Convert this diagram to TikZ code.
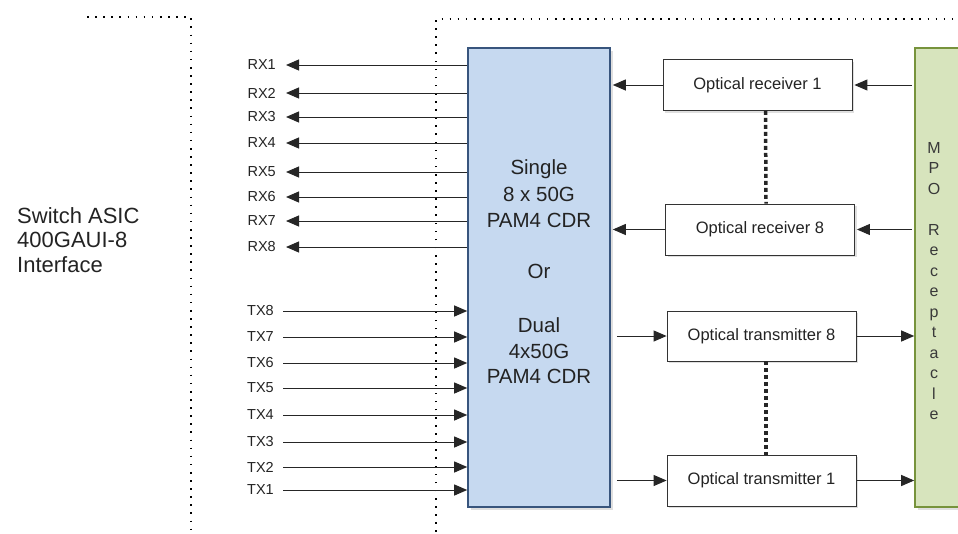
\documentclass[tikz,border=0pt]{standalone}
\usepackage{fontspec}
\setmainfont{Liberation Sans}
\usetikzlibrary{arrows.meta,shadows}
\definecolor{cdrfill}{RGB}{198,217,240}
\definecolor{cdrline}{RGB}{56,85,125}
\definecolor{mpofill}{RGB}{215,228,189}
\definecolor{mpoline}{RGB}{119,147,60}
\definecolor{txt}{RGB}{35,35,35}
\tikzset{
  lbl/.style={font=\fontsize{14.5}{16}\selectfont, inner sep=0pt, text=txt},
  arr/.style={draw=black!85, line width=1pt, -{Triangle[length=13pt,width=11pt]}},
  optbox/.style={draw=black!80, line width=0.8pt, fill=white, minimum width=189pt,
    minimum height=51pt, inner sep=0pt, text=txt, font=\fontsize{16.5}{18}\selectfont,
    drop shadow={opacity=0.25, shadow xshift=2pt, shadow yshift=-2pt}},
  bigtxt/.style={font=\fontsize{22}{24}\selectfont, inner sep=0pt, text=txt},
  cdrtxt/.style={font=\fontsize{20.5}{24}\selectfont, inner sep=0pt, text=txt},
  mpotxt/.style={font=\fontsize{16}{18}\selectfont, inner sep=0pt, text=txt!90},
  border/.style={line width=1.6pt, dash pattern=on 1.6pt off 6.5pt, draw=black},
  thickdots/.style={line width=3.5pt, dash pattern=on 4pt off 3pt, draw=black!85},
}
\begin{document}
\begin{tikzpicture}[x=1pt,y=-1pt]
\useasboundingbox (0,0) rectangle (958,533);
% dotted boundaries
\coordinate (b1a) at (87,17);
\coordinate (b1b) at (191,17);
\coordinate (b1c) at (191,540);
\draw[border] (b1a) -- (b1b) -- (b1c);
\coordinate (b2a) at (436,540);
\coordinate (b2b) at (436,19);
\coordinate (b2c) at (960,19);
\draw[border] (b2a) -- (b2b) -- (b2c);
% main boxes
\node[draw=cdrline, line width=1.6pt, fill=cdrfill, minimum width=142pt, minimum height=459pt,
  inner sep=0pt, drop shadow={opacity=0.25, shadow xshift=2.5pt, shadow yshift=-2.5pt}] (cdr) at (539,277.5) {};
\node[draw=mpoline, line width=1.6pt, fill=mpofill, minimum width=70pt, minimum height=459pt,
  inner sep=0pt, drop shadow={opacity=0.25, shadow xshift=2.5pt, shadow yshift=-2.5pt}] (mpo) at (950,277.5) {};
% CDR text
\foreach \k/\y/\t in {1/174/Single,2/201/8 x 50G,3/227/PAM4 CDR,4/278/Or,5/332/Dual,6/358/4x50G,7/383/PAM4 CDR}{
  \node[cdrtxt, anchor=base] (c\k) at (539,\y) {\t};
}
% MPO text
\foreach \k/\t in {0/M,1/P,2/O,4/R,5/e,6/c,7/e,8/p,9/t,10/a,11/c,12/l,13/e}{
  \node[mpotxt, anchor=base] (m\k) at (934,153+20.5*\k) {\t};
}
% Switch ASIC text
\node[bigtxt, anchor=base west] (s1) at (17,223) {Switch ASIC};
\node[bigtxt, anchor=base west] (s2) at (17,247.5) {400GAUI-8};
\node[bigtxt, anchor=base west] (s3) at (17,272) {Interface};
% optical boxes
\node[optbox] (orx1) at (757.5,85) {Optical receiver 1};
\node[optbox] (orx8) at (760,229.5) {Optical receiver 8};
\node[optbox, minimum height=50pt] (otx8) at (761.5,336) {Optical transmitter 8};
\node[optbox] (otx1) at (761.5,480.5) {Optical transmitter 1};
% RX lines
\foreach \i/\y in {1/65,2/93,3/117,4/143,5/172,6/197,7/221,8/247}{
  \node[lbl, anchor=east] (lrx\i) at (276,\y) {RX\i};
  \draw[arr] (cdr.west |- lrx\i) -- ([xshift=10pt]lrx\i.east);
}
% TX lines
\foreach \i/\y in {8/311,7/337,6/363,5/388,4/415,3/442,2/467,1/490}{
  \node[lbl, anchor=east] (ltx\i) at (274,\y) {TX\i};
  \draw[arr] ([xshift=9pt]ltx\i.east) -- (cdr.west |- ltx\i);
}
% receiver arrows
\draw[arr] (orx1.west) -- ([xshift=2pt]cdr.east |- orx1);
\draw[arr] ([xshift=-2pt]mpo.west |- orx1) -- ([xshift=2pt]orx1.east);
\draw[arr] (orx8.west) -- ([xshift=2pt]cdr.east |- orx8);
\draw[arr] ([xshift=-2pt]mpo.west |- orx8) -- ([xshift=2pt]orx8.east);
% transmitter arrows
\draw[arr] ([xshift=6pt]cdr.east |- otx8) -- (otx8.west);
\draw[arr] ([xshift=1pt]otx8.east) -- (mpo.west |- otx8);
\draw[arr] ([xshift=6pt]cdr.east |- otx1) -- (otx1.west);
\draw[arr] ([xshift=1pt]otx1.east) -- (mpo.west |- otx1);
% thick dotted connectors
\draw[thickdots] ([xshift=8pt]orx1.south) -- ([xshift=6pt]orx8.north);
\draw[thickdots] ([xshift=4.5pt]otx8.south) -- ([xshift=4.5pt]otx1.north);
\end{tikzpicture}
\end{document}
